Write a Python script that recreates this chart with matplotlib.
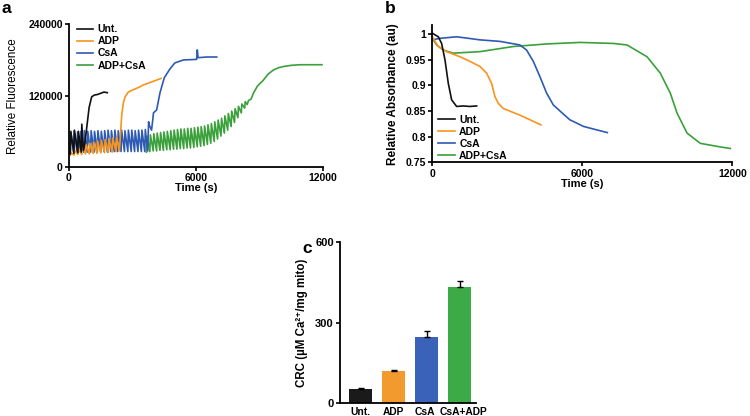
import matplotlib
matplotlib.use("Agg")
import matplotlib.pyplot as plt
import matplotlib.transforms as mtransforms
import numpy as np

plt.rcParams['font.family'] = ['Liberation Sans', 'DejaVu Sans']

# ---------------- Panel a data (Calcium Green fluorescence) ----------------
series_names = ["Unt.", "ADP", "CsA", "ADP+CsA"]
colors_line = ["#111111", "#F7941D", "#2E5AB4", "#3AA03A"]

unt_teeth_t = [60, 230, 420, 580]
unt_teeth_peak = [60000, 62000, 60000, 72000]
unt_teeth_base = [22000, 23000, 24000, 25000]
unt_tail_t = [680, 750, 850, 950, 1070, 1200, 1350, 1500, 1650, 1810]
unt_tail_y = [28000, 40000, 70000, 100000, 118000, 121000, 122000, 124000, 126000, 125000]

adp_teeth_t = [60, 240, 420, 600, 780, 960, 1140, 1320, 1500, 1680, 1860, 2040, 2220]
adp_teeth_peak = [24000, 28000, 32000, 35000, 38000, 40000, 42000, 44000, 45000, 46000, 48000, 49000, 50000]
adp_teeth_base = [20000, 20000, 21000, 21000, 22000, 22000, 23000, 23000, 24000, 24000, 25000, 25000, 26000]
adp_tail_t = [2380, 2440, 2490, 2570, 2650, 2800, 3040, 3300, 3510, 3900, 4350]
adp_tail_y = [27000, 60000, 87000, 108000, 118000, 126000, 130000, 134000, 138000, 143000, 149000]

csa_teeth_t = [60, 220, 380, 540, 700, 860, 1020, 1180, 1340, 1500, 1660, 1820, 1980,
               2140, 2300, 2460, 2620, 2780, 2940, 3100, 3260, 3420, 3580]
csa_teeth_peak = [58000, 60000, 59000, 60000, 61000, 60000, 61000, 60000, 61000, 60000, 61000, 62000,
                  61000, 62000, 61000, 62000, 61000, 62000, 62000, 61000, 62000, 62000, 63000]
csa_teeth_base = [24000, 25000, 25000, 25000, 25000, 25000, 25000, 25000, 25000, 25000, 26000, 25000,
                  26000, 26000, 26000, 26000, 26000, 26000, 26000, 26000, 26000, 26000, 26000]
csa_tail_t = [3720, 3760, 3800, 3900, 3960, 3990, 4140, 4300, 4500, 4770, 5000, 5400, 6030, 6060, 6100,
              6160, 6500, 6980]
csa_tail_y = [27000, 76000, 70000, 62000, 80000, 91000, 96000, 125000, 150000, 165000, 175000, 180000,
              181000, 197000, 184000, 184000, 185000, 185000]

adpcsa_teeth_t = [3660, 3820, 3980, 4140, 4300, 4460, 4620, 4780, 4940, 5100, 5260, 5420, 5580, 5740,
                  5900, 6060, 6220, 6380, 6540, 6700, 6860, 7020, 7180, 7340, 7500, 7660, 7820, 7980,
                  8140, 8300]
adpcsa_teeth_peak = [52000, 54000, 56000, 57000, 58000, 59000, 60000, 61000, 62000, 63000, 64000, 64000,
                     65000, 65000, 66000, 67000, 68000, 69000, 71000, 73000, 76000, 79000, 82000, 86000,
                     90000, 94000, 98000, 102000, 106000, 110000]
adpcsa_teeth_base = [25000, 26000, 27000, 27000, 28000, 28000, 29000, 29000, 30000, 30000, 31000, 31000,
                     32000, 32000, 33000, 34000, 35000, 36000, 38000, 40000, 43000, 47000, 52000, 57000,
                     62000, 68000, 75000, 83000, 91000, 99000]
adpcsa_tail_t = [8420, 8480, 8600, 8710, 8900, 9180, 9400, 9650, 9900, 10130, 10500, 10910, 11400, 11950]
adpcsa_tail_y = [105000, 112000, 114000, 124000, 136000, 146000, 156000, 163000, 167000, 169000, 171000,
                 172000, 172000, 172000]

# ---------------- Panel b data (relative absorbance) ----------------
b_unt_t = [0, 240, 373, 507, 640, 773, 973, 1240, 1500, 1773]
b_unt_y = [1.002, 0.995, 0.982, 0.950, 0.904, 0.872, 0.859, 0.860, 0.859, 0.860]
b_adp_t = [0, 240, 573, 1107, 1507, 1907, 2173, 2373, 2507, 2640, 2840, 3507, 4347]
b_adp_y = [0.995, 0.976, 0.966, 0.956, 0.947, 0.937, 0.924, 0.904, 0.878, 0.865, 0.855, 0.842, 0.823]
b_csa_t = [0, 307, 973, 1907, 2707, 3507, 3773, 4040, 4307, 4573, 4840, 5110, 5500, 6050, 6440, 7000]
b_csa_y = [0.989, 0.992, 0.995, 0.989, 0.986, 0.979, 0.969, 0.947, 0.917, 0.885, 0.862, 0.850,
           0.833, 0.820, 0.815, 0.808]
b_adpcsa_t = [0, 173, 440, 840, 1907, 3240, 4573, 5907, 7240, 7790, 8590, 9120, 9520, 9790, 10190,
              10720, 11520, 11920]
b_adpcsa_y = [0.992, 0.979, 0.969, 0.963, 0.966, 0.976, 0.981, 0.984, 0.982, 0.979, 0.956, 0.924,
              0.885, 0.846, 0.807, 0.787, 0.780, 0.777]

# ---------------- Panel c data (CRC) ----------------
crc_labels = ["Unt.", "ADP", "CsA", "CsA+ADP"]
crc_values = [52, 122, 248, 435]
crc_errors = [6, 3, 20, 22]
colors_bar = ["#1A1A1A", "#F39A2E", "#3A62B8", "#3DAA48"]


def sawtooth(tt, peaks, bases, tail_t, tail_y, rise=25):
    xs, ys = [], []
    for t, p, b in zip(tt, peaks, bases):
        xs += [t, t + rise]
        ys += [b, p]
    xs += tail_t
    ys += tail_y
    return xs, ys


W, H = 750, 416
fig = plt.figure(figsize=(W / 100, H / 100), dpi=100)

def box(l, r, t, b):
    return [l / W, 1 - b / H, (r - l) / W, (b - t) / H]

def style(ax, fs=7.5):
    for s in ['top', 'right']:
        ax.spines[s].set_visible(False)
    for s in ['left', 'bottom']:
        ax.spines[s].set_linewidth(1.3)
    ax.tick_params(direction='out', length=3, width=1.2, labelsize=fs, pad=1.5)
    for lab in ax.get_xticklabels() + ax.get_yticklabels():
        lab.set_fontweight('bold')

# ---- Panel a ----
axa = fig.add_axes(box(69, 323, 24.3, 167))
data_a = [
    (adpcsa_teeth_t, adpcsa_teeth_peak, adpcsa_teeth_base, adpcsa_tail_t, adpcsa_tail_y, 3),
    (csa_teeth_t, csa_teeth_peak, csa_teeth_base, csa_tail_t, csa_tail_y, 2),
    (adp_teeth_t, adp_teeth_peak, adp_teeth_base, adp_tail_t, adp_tail_y, 1),
    (unt_teeth_t, unt_teeth_peak, unt_teeth_base, unt_tail_t, unt_tail_y, 0),
]
handles = [None] * 4
for tt, pk, bs, tl_t, tl_y, idx in data_a:
    xs, ys = sawtooth(tt, pk, bs, tl_t, tl_y)
    ln, = axa.plot(xs, ys, color=colors_line[idx], lw=1.2, label=series_names[idx])
    handles[idx] = ln
axa.set_xlim(0, 12000)
axa.set_ylim(0, 240000)
axa.set_xticks([0, 6000, 12000])
axa.set_yticks([0, 120000, 240000])
style(axa)
axa.set_xlabel("Time (s)", fontsize=8, fontweight='bold', labelpad=0)
axa.set_ylabel("Relative Fluorescence", fontsize=8.4, labelpad=7)
axa.legend(handles=handles, loc='upper left', bbox_to_anchor=(0.03, 1.0), frameon=False,
           prop={'size': 7.5, 'weight': 'bold'}, handlelength=1.6, handletextpad=0.4,
           labelspacing=0.2, borderpad=0, borderaxespad=0)

# ---- Panel b ----
axb = fig.add_axes(box(432.3, 732.3, 25, 162.3))
b_data = [(b_adpcsa_t, b_adpcsa_y, 3), (b_csa_t, b_csa_y, 2), (b_adp_t, b_adp_y, 1), (b_unt_t, b_unt_y, 0)]
hb = [None] * 4
for tt, yy, idx in b_data:
    ln, = axb.plot(tt, yy, color=colors_line[idx], lw=1.2, label=series_names[idx])
    hb[idx] = ln
axb.set_xlim(0, 12000)
axb.set_ylim(0.75, 1.018)
axb.set_xticks([0, 6000, 12000])
axb.set_yticks([0.75, 0.8, 0.85, 0.9, 0.95, 1.0])
axb.set_yticklabels(["0.75", "0.8", "0.85", "0.9", "0.95", "1"])
style(axb)
axb.set_xlabel("Time (s)", fontsize=8, fontweight='bold', labelpad=0)
axb.set_ylabel("Relative Absorbance (au)", fontsize=8.5, fontweight='bold', labelpad=5)
axb.legend(handles=hb, loc='lower left', bbox_to_anchor=(0.02, 0.01), frameon=False,
           prop={'size': 7.5, 'weight': 'bold'}, handlelength=1.6, handletextpad=0.4,
           labelspacing=0.2, borderpad=0, borderaxespad=0)

# ---- Panel c ----
axc = fig.add_axes(box(340, 476, 242.3, 403.3))
xpos = np.arange(len(crc_values))
axc.bar(xpos, crc_values, width=0.69, color=colors_bar,
        yerr=[np.zeros(len(crc_errors)), crc_errors], capsize=2.5,
        error_kw={'elinewidth': 1.0, 'capthick': 1.0, 'ecolor': 'black'})
axc.set_xlim(-0.63, 3.49)
axc.set_ylim(0, 600)
axc.set_yticks([0, 300, 600])
axc.set_xticks(xpos)
axc.set_xticklabels(crc_labels)
style(axc, fs=8)
axc.tick_params(axis='x', length=0, pad=3, labelsize=7.4)
# small horizontal nudges so the crowded category labels do not collide
nudges = [0, 0, -2, 4]
for lab, dx in zip(axc.get_xticklabels(), nudges):
    lab.set_transform(lab.get_transform() + mtransforms.ScaledTranslation(dx / 100, 0, fig.dpi_scale_trans))
axc.set_ylabel("CRC (µM Ca²⁺/mg mito)", fontsize=8.3, fontweight='bold', labelpad=5)

# panel letters
fig.text(2 / W, 1 - 1 / H, "a", fontsize=12.5, fontweight='bold', va='top', ha='left')
fig.text(385 / W, 1 - 1 / H, "b", fontsize=12.5, fontweight='bold', va='top', ha='left')
fig.text(302 / W, 1 - 241 / H, "c", fontsize=12.5, fontweight='bold', va='top', ha='left')

fig.savefig("out.png", dpi=100)
